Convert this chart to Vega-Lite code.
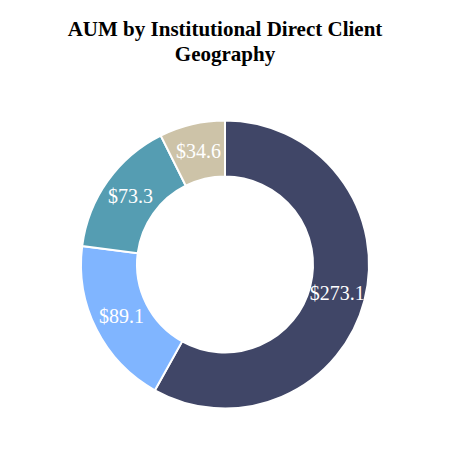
{
  "$schema": "https://vega.github.io/schema/vega-lite/v6.json",
  "width": 450,
  "height": 371,
  "autosize": "none",
  "padding": {"top": 79, "left": 0, "right": 0, "bottom": 0},
  "background": "white",
  "view": {"stroke": null},
  "title": {
    "text": ["AUM by Institutional Direct Client", "Geography"],
    "font": "Liberation Serif",
    "fontSize": 21,
    "fontWeight": "bold",
    "color": "black",
    "anchor": "middle",
    "lineHeight": 25,
    "offset": 14
  },
  "data": {
    "values": [
      {"segment": "A", "value": 273.1},
      {"segment": "B", "value": 89.1},
      {"segment": "C", "value": 73.3},
      {"segment": "D", "value": 34.6}
    ]
  },
  "encoding": {
    "theta": {"field": "value", "type": "quantitative", "stack": true},
    "order": {"field": "value", "sort": "descending"}
  },
  "layer": [
    {
      "mark": {"type": "arc", "outerRadius": 144, "innerRadius": 88, "stroke": "white", "strokeWidth": 2},
      "encoding": {
        "color": {
          "field": "segment",
          "type": "nominal",
          "scale": {"domain": ["A", "B", "C", "D"], "range": ["#404667", "#80b5ff", "#559db2", "#cdc3a8"]},
          "legend": null
        }
      }
    },
    {
      "mark": {"type": "text", "radius": 116, "font": "Liberation Serif", "fontSize": 20, "color": "white", "baseline": "middle", "align": "center"},
      "encoding": {
        "text": {"field": "value", "type": "quantitative", "format": "$.1f"}
      }
    }
  ]
}
